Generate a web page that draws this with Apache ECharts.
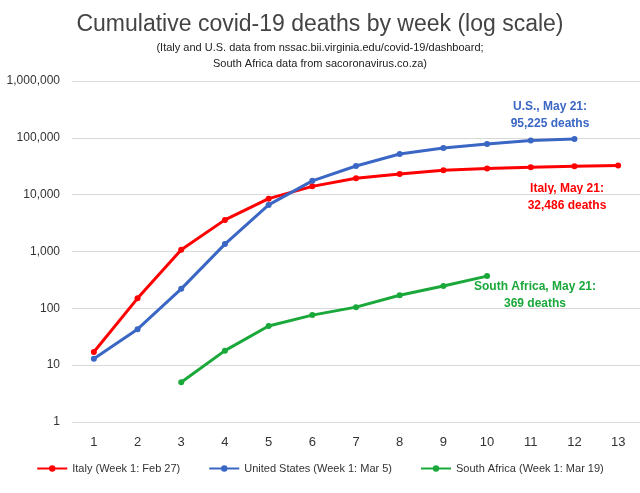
<!DOCTYPE html>
<html><head><meta charset="utf-8">
<script src="https://cdn.jsdelivr.net/npm/echarts@6/dist/echarts.min.js"></script>
<style>body{margin:0}#main{width:640px;height:493px}</style>
</head><body><div id="main"></div>
<script>
var weeks = ['1','2','3','4','5','6','7','8','9','10','11','12','13'];
var italy = [17, 150, 1070, 3600, 8500, 14000, 19500, 23000, 27000, 29000, 30500, 31500, 32486];
var us = [13, 43, 220, 1350, 6600, 17500, 32000, 52000, 66000, 78000, 90000, 95225];
var southAfrica = [null, null, 5, 18, 49, 76, 105, 170, 247, 369];

var myChart = echarts.init(document.getElementById('main'));
var font = 'Liberation Sans';
function line(name, data, color) {
    return {name: name, type: 'line', data: data, symbol: 'circle', symbolSize: 6,
        lineStyle: {color: color, width: 3}, itemStyle: {color: color}};
}
var option = {
    animation: false,
    textStyle: {fontFamily: font},
    title: {text: 'Cumulative covid-19 deaths by week (log scale)', left: 'center', top: 8,
        textStyle: {fontSize: 23, fontWeight: 'normal', color: '#444'},
        subtext: '(Italy and U.S. data from nssac.bii.virginia.edu/covid-19/dashboard;\nSouth Africa data from sacoronavirus.co.za)',
        subtextStyle: {fontSize: 11, color: '#222', lineHeight: 16}, itemGap: 4},
    grid: {left: 72, right: -9, top: 81, bottom: 71},
    xAxis: {type: 'category', data: weeks, boundaryGap: true,
        axisLine: {show: false}, axisTick: {show: false},
        axisLabel: {fontSize: 13, color: '#333', margin: 14}},
    yAxis: {type: 'log', min: 1, max: 1000000, logBase: 10,
        axisLine: {show: false}, axisTick: {show: false},
        splitLine: {lineStyle: {color: '#d9d9d9'}},
        axisLabel: {fontSize: 12, color: '#333', margin: 12,
            formatter: function (v) { return v.toLocaleString('en-US'); }}},
    legend: {bottom: 14, left: 'center', itemWidth: 30, itemHeight: 8, itemGap: 28,
        textStyle: {fontSize: 11, color: '#333'},
        data: ['Italy (Week 1: Feb 27)', 'United States (Week 1: Mar 5)', 'South Africa (Week 1: Mar 19)']},
    series: [
        line('Italy (Week 1: Feb 27)', italy, '#ff0000'),
        line('United States (Week 1: Mar 5)', us, '#3a66c4'),
        line('South Africa (Week 1: Mar 19)', southAfrica, '#1aa83a')
    ],
    graphic: [
        {type: 'text', x: 550, y: 98, style: {text: 'U.S., May 21:\n95,225 deaths', fill: '#3a66c4', font: 'bold 12px ' + font, lineHeight: 17, align: 'center'}},
        {type: 'text', x: 567, y: 180, style: {text: 'Italy, May 21:\n32,486 deaths', fill: '#ff0000', font: 'bold 12px ' + font, lineHeight: 17, align: 'center'}},
        {type: 'text', x: 535, y: 278, style: {text: 'South Africa, May 21:\n369 deaths', fill: '#1aa83a', font: 'bold 12px ' + font, lineHeight: 17, align: 'center'}}
    ]
};
myChart.setOption(option);
</script></body></html>
